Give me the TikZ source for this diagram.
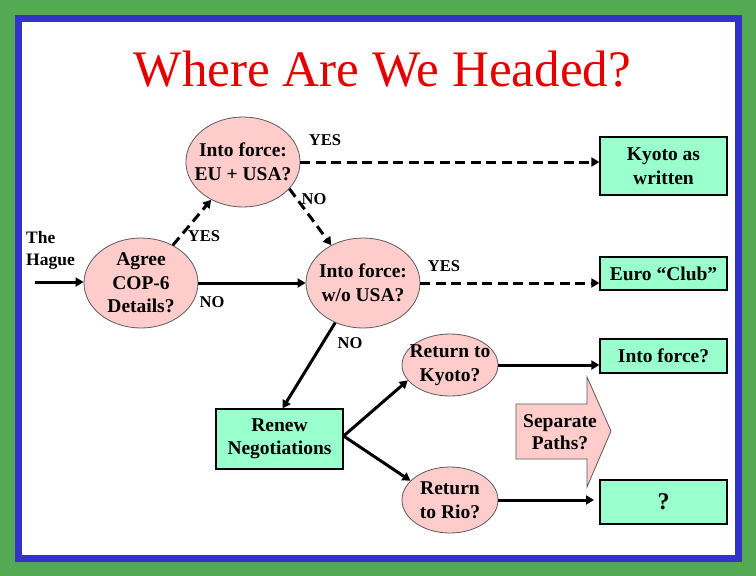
\documentclass[tikz,border=0pt]{standalone}
\usepackage{fontspec}
\setmainfont{Liberation Serif}
\usetikzlibrary{arrows.meta,shapes.geometric}
\definecolor{pinkfill}{RGB}{255,204,204}
\definecolor{mintfill}{RGB}{153,255,204}
\definecolor{framegreen}{RGB}{84,170,84}
\definecolor{frameblue}{RGB}{51,51,204}
\definecolor{titlered}{RGB}{228,0,0}
\definecolor{edgegray}{RGB}{90,90,90}
\begin{document}
\begin{tikzpicture}[x=1pt,y=-1pt,
  dec/.style={ellipse, draw=edgegray, line width=0.8pt, fill=pinkfill, inner xsep=-8pt, inner ysep=-4pt, align=center, font=\fontsize{19.5}{23.5}\selectfont\bfseries},
  outbox/.style={rectangle, draw=black, line width=1.2pt, fill=mintfill, inner sep=0pt, align=center, font=\fontsize{19.5}{23.5}\selectfont\bfseries},
  lbl/.style={font=\fontsize{16.5}{19}\selectfont\bfseries, inner sep=0pt},
  flow/.style={line width=3pt, -{Triangle[length=8pt,width=9pt]}},
  maybe/.style={flow, dash pattern=on 10pt off 5.5pt},
]
\useasboundingbox (0,0) rectangle (756,576);
\fill[framegreen] (0,0) rectangle (756,576);
\fill[frameblue] (15,15) rectangle (742,562);
\fill[white] (22,22) rectangle (735,555);

\node[anchor=base, text=titlered, font=\fontsize{51.2}{56}\selectfont, inner sep=0pt] (title) at (382.5,86) {Where Are We Headed?};

% decision ellipses
\node[dec, minimum width=114pt, minimum height=90pt] (eu) at (243,162) {Into force:\\EU + USA?};
\node[dec, minimum width=114pt, minimum height=90pt] (agree) at (141,283) {Agree\\COP-6\\Details?};
\node[dec, minimum width=114pt, minimum height=90pt] (wo) at (363,283) {Into force:\\w/o USA?};
\node[dec, minimum width=96pt, minimum height=62pt] (rk) at (450,365) {Return to\\Kyoto?};
\node[dec, minimum width=96pt, minimum height=66pt] (rr) at (450,500) {Return\\to Rio?};

% outcome boxes
\node[outbox, minimum width=127pt, minimum height=58pt] (kyoto) at (663.5,166) {Kyoto as\\written};
\node[outbox, minimum width=127pt, minimum height=33pt] (euro) at (663.5,273.5) {Euro “Club”};
\node[outbox, minimum width=127pt, minimum height=34pt] (intof) at (663.5,356) {Into force?};
\node[outbox, minimum width=127pt, minimum height=44pt, font=\fontsize{24}{28}\selectfont\bfseries] (qbox) at (663.5,502) {?};
\node[outbox, minimum width=127pt, minimum height=60pt] (renew) at (279.5,439) {Renew\\Negotiations};

% separate paths block arrow
\filldraw[fill=pinkfill, draw=edgegray, line width=0.8pt] (516,404) -- (587,404) -- (587,377) -- (611,431) -- (587,487) -- (587,459) -- (516,459) -- cycle;
\node[align=center, inner sep=0pt, font=\fontsize{19.5}{22}\selectfont\bfseries] (sep) at (560,432) {Separate\\Paths?};

% entry
\node[align=left, anchor=north west, inner sep=0pt, font=\fontsize{17.5}{22}\selectfont\bfseries] (hague) at (26,231) {The\\Hague};
\coordinate (hagueIn) at (35,282);
\draw[flow] (hagueIn) -- (hagueIn -| agree.west);

% connectors
\draw[maybe] (agree) -- (eu);
\draw[maybe] (eu.-30) -- (wo.130);
\draw[maybe] (eu) -- (eu -| kyoto.west);
\draw[maybe] (wo) -- (wo -| euro.west);
\draw[flow] (agree) -- (wo);
\draw[flow] (wo.235) -- ([xshift=3pt]renew.north);
\draw[flow] ([yshift=3pt]renew.east) -- (rk.200);
\draw[flow] ([yshift=3pt]renew.east) -- (rr.154);
\draw[flow] (rk) -- (rk -| intof.west);
\coordinate (qin) at (594,500);
\draw[flow] (rr) -- (qin);

% labels
\node[lbl] (yes1) at (325,140) {YES};
\node[lbl] (no1) at (314,199) {NO};
\node[lbl] (yes2) at (204,236) {YES};
\node[lbl] (no2) at (212,302) {NO};
\node[lbl] (yes3) at (444,266) {YES};
\node[lbl] (no3) at (350,343) {NO};
\end{tikzpicture}
\end{document}
